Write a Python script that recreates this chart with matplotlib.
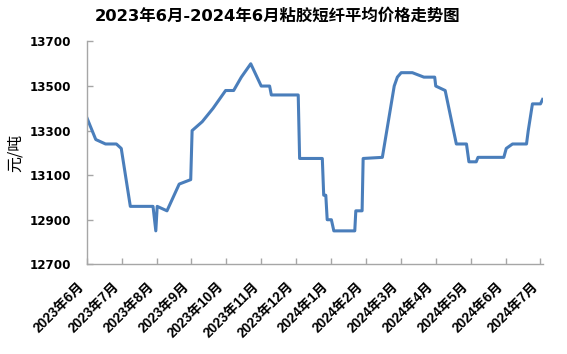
import matplotlib
matplotlib.use("Agg")
import matplotlib.pyplot as plt

# Month index (0 = 2023年6月, 13 = 2024年7月) and price (元/吨)
month_pos = [0, 0.26, 0.54, 0.85, 0.99, 1.25, 1.90, 1.98, 2.02, 2.30, 2.65, 2.98,
             3.02, 3.31, 3.62, 3.98, 4.21, 4.43, 4.70, 5.00, 5.24, 5.29, 6.06,
             6.10, 6.75, 6.79, 6.85, 6.89, 7.01, 7.08, 7.68, 7.71, 7.89, 7.92,
             8.47, 8.81, 8.90, 9.01, 9.33, 9.66, 9.97, 10.00, 10.27, 10.59,
             10.88, 10.95, 11.16, 11.21, 11.95, 12.02, 12.20, 12.60, 12.65,
             12.77, 13.00, 13.06]
price = [13360, 13260, 13240, 13240, 13220, 12960, 12960, 12850, 12960, 12940,
         13060, 13080, 13300, 13340, 13400, 13480, 13480, 13540, 13600, 13500,
         13500, 13460, 13460, 13175, 13175, 13010, 13010, 12900, 12900, 12850,
         12850, 12940, 12940, 13175, 13180, 13500, 13540, 13560, 13560, 13540,
         13540, 13500, 13480, 13240, 13240, 13160, 13160, 13180, 13180, 13220,
         13240, 13240, 13300, 13420, 13420, 13440]

tick_labels = ["2023年6月", "2023年7月", "2023年8月", "2023年9月", "2023年10月",
               "2023年11月", "2023年12月", "2024年1月", "2024年2月", "2024年3月",
               "2024年4月", "2024年5月", "2024年6月", "2024年7月"]
y_ticks = [12700, 12900, 13100, 13300, 13500, 13700]

title = "2023年6月-2024年6月粘胶短纤平均价格走势图"
ylabel = "元/吨"

fam = ["DejaVu Sans", "Noto Sans CJK SC"]
xfam = ["Liberation Sans", "Noto Sans CJK SC"]
plt.rcParams["font.family"] = fam

fig = plt.figure(figsize=(5.67, 3.54), dpi=100)
ax = fig.add_axes([0.1529, 0.2534, 0.804, 0.6294])

ax.plot(month_pos, price, color="#4a7ebb", linewidth=2.2, solid_joinstyle="round")

ax.set_xlim(0, 13.06)
ax.set_ylim(12700, 13700)
ax.set_yticks(y_ticks)
ax.set_yticklabels([str(v) for v in y_ticks], fontsize=8.6, fontweight="bold", family=fam)
ax.set_xticks(range(len(tick_labels)))
ax.set_xticklabels(tick_labels, rotation=45, ha="right", va="top",
                   fontsize=9.8, fontweight="bold", family=xfam)

for s in ["top", "right"]:
    ax.spines[s].set_visible(False)
for s in ["left", "bottom"]:
    ax.spines[s].set_color("#a6a6a6")
    ax.spines[s].set_linewidth(1.0)

ax.tick_params(axis="both", direction="in", length=4, width=1, color="#a6a6a6")
ax.tick_params(axis="y", pad=11.5)
ax.tick_params(axis="x", pad=11)

ax.set_ylabel(ylabel, fontsize=11.5, family=["Noto Sans CJK SC", "DejaVu Sans"], labelpad=4)

fig.text(0.49, 0.955, title, ha="center", va="center", fontsize=11.8,
         fontweight="bold", family=fam)

fig.savefig("out.png", dpi=100)
